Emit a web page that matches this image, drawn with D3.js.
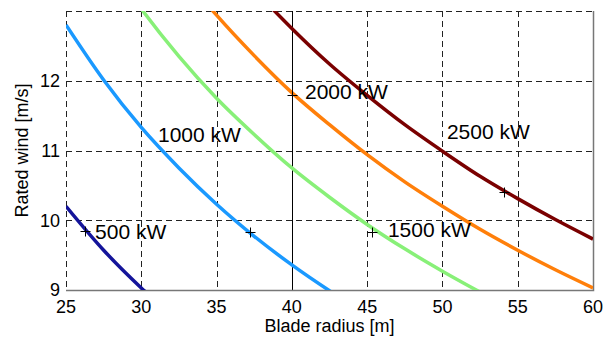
<!DOCTYPE html>
<html>
<head>
<meta charset="utf-8">
<script src="https://cdn.jsdelivr.net/npm/d3@7"></script>
<style>
	body { margin: 0; background: #fff; }
	text { font-family: "Liberation Sans", Arial, sans-serif; fill: #000; }
</style>
</head>
<body>
<svg id="chart"></svg>
<script>

// blade radius samples [m]
var radius = [25, 27.5, 30, 32.5, 35, 37.5, 40, 42.5, 45, 47.5, 50, 52.5, 55, 57.5, 60];

// rated wind [m/s] at the radius samples
var wind500  = [10.2, 9.57, 9.03, 8.56];
var wind1000 = [12.8, 12.01, 11.33, 10.75, 10.23, 9.77, 9.36, 8.99, 8.65];
var wind1500 = [14.71, 13.80, 13.03, 12.35, 11.75, 11.23, 10.75, 10.33, 9.94, 9.59, 9.27, 8.97];
var wind2000 = [16.19, 15.19, 14.34, 13.59, 12.94, 12.36, 11.83, 11.37, 10.94, 10.55, 10.20, 9.87, 9.57, 9.29, 9.03];
var wind2500 = [17.44, 16.37, 15.44, 14.64, 13.94, 13.31, 12.75, 12.24, 11.79, 11.37, 10.99, 10.63, 10.31, 10.01, 9.73];

var seriesNames = ['500 kW', '1000 kW', '1500 kW', '2000 kW', '2500 kW'];
var seriesColors = ['#14149a', '#1a99ff', '#88f078', '#ff7f0a', '#7a0000'];

// "+" markers [radius, wind]
var markers = [[26.26, 9.85], [37.22, 9.83], [45.34, 9.83], [40, 11.79], [54.08, 10.4]];

// label anchors [radius, wind]
var labelPos = [[26.93, 9.73], [31.11, 11.12], [46.38, 9.76], [40.87, 11.74], [50.3, 11.17]];

var xTicks = [25, 30, 35, 40, 45, 50, 55, 60];
var yTicks = [9, 10, 11, 12];

var width = 605, height = 340;
var plotLeft = 66, plotRight = 593, plotTop = 11, plotBottom = 290;

var svg = d3.select('#chart')
	.attr('width', width)
	.attr('height', height);

var x = d3.scaleLinear().domain([25, 60]).range([plotLeft, plotRight]);
var y = d3.scaleLinear().domain([9, 13]).range([plotBottom, plotTop]);

svg.append('defs').append('clipPath')
	.attr('id', 'plot-clip')
	.append('rect')
		.attr('x', plotLeft)
		.attr('y', plotTop)
		.attr('width', plotRight - plotLeft)
		.attr('height', plotBottom - plotTop);

// grid lines
var grid = svg.append('g').attr('class', 'grid');

grid.selectAll('.vgrid')
	.data(xTicks.filter(function(d){ return d < 60 }))
	.enter().append('line')
		.attr('x1', function(d){ return Math.round(x(d)) + 0.5 })
		.attr('x2', function(d){ return Math.round(x(d)) + 0.5 })
		.attr('y1', plotTop)
		.attr('y2', plotBottom)
		.attr('stroke', function(d){ return d === 40 ? '#000' : '#222' })
		.attr('stroke-width', 1)
		.attr('stroke-dasharray', function(d){ return d === 40 ? null : '6,4' });

grid.selectAll('.hgrid')
	.data([10, 11, 12, 13])
	.enter().append('line')
		.attr('x1', plotLeft)
		.attr('x2', plotRight)
		.attr('y1', function(d){ return Math.round(y(d)) + 0.5 })
		.attr('y2', function(d){ return Math.round(y(d)) + 0.5 })
		.attr('stroke', '#222')
		.attr('stroke-width', 1)
		.attr('stroke-dasharray', '6,4');

// solid right and bottom frame
svg.append('path')
	.attr('d', 'M' + (x(60) + 0.5) + ',' + plotTop + 'V' + (plotBottom + 0.5) + 'H' + plotLeft)
	.attr('fill', 'none')
	.attr('stroke', '#777')
	.attr('stroke-width', 1.5);

// curves
var allWinds = [wind500, wind1000, wind1500, wind2000, wind2500];

var line = d3.line()
	.x(function(d){ return x(d[0]) })
	.y(function(d){ return y(d[1]) })
	.curve(d3.curveMonotoneX);

var curves = svg.append('g').attr('clip-path', 'url(#plot-clip)');

allWinds.forEach(function(w, i){
	var pts = w.map(function(v, j){ return [radius[j], v] });
	curves.append('path')
		.attr('d', line(pts))
		.attr('fill', 'none')
		.attr('stroke', seriesColors[i])
		.attr('stroke-width', 3.5);
});

// markers
svg.selectAll('.marker')
	.data(markers)
	.enter().append('path')
		.attr('d', function(d){
			var cx = Math.round(x(d[0])) + 0.5, cy = Math.round(y(d[1])) + 0.5;
			return 'M' + (cx - 5) + ',' + cy + 'H' + (cx + 5) + 'M' + cx + ',' + (cy - 5) + 'V' + (cy + 5);
		})
		.attr('stroke', '#000')
		.attr('stroke-width', 1);

// curve labels
svg.selectAll('.curve-label')
	.data(labelPos)
	.enter().append('text')
		.attr('x', function(d){ return x(d[0]) })
		.attr('y', function(d){ return y(d[1]) })
		.attr('font-size', 21)
		.text(function(d, i){ return seriesNames[i] });

// tick labels
svg.selectAll('.xtick')
	.data(xTicks)
	.enter().append('text')
		.attr('x', function(d){ return x(d) })
		.attr('y', 313)
		.attr('text-anchor', 'middle')
		.attr('font-size', 18)
		.text(function(d){ return d });

svg.selectAll('.ytick')
	.data(yTicks)
	.enter().append('text')
		.attr('x', plotLeft - 6)
		.attr('y', function(d){ return y(d) })
		.attr('dy', '0.35em')
		.attr('text-anchor', 'end')
		.attr('font-size', 18)
		.text(function(d){ return d });

// axis titles
svg.append('text')
	.attr('x', (plotLeft + plotRight) / 2)
	.attr('y', 332)
	.attr('text-anchor', 'middle')
	.attr('font-size', 18)
	.text('Blade radius [m]');

svg.append('text')
	.attr('transform', 'translate(28,' + ((plotTop + plotBottom) / 2) + ') rotate(-90)')
	.attr('text-anchor', 'middle')
	.attr('font-size', 18)
	.text('Rated wind [m/s]');

</script>
</body>
</html>
